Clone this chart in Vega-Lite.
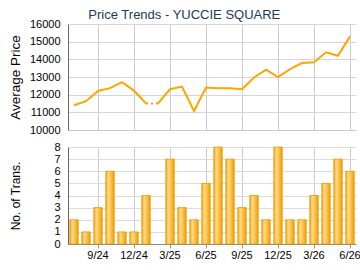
{
  "$schema": "https://vega.github.io/schema/vega-lite/v6.json",
  "background": "white",
  "padding": {"left": 8, "top": 9, "right": 5, "bottom": 5},
  "title": {"text": "Price Trends - YUCCIE SQUARE", "font": "Liberation Sans", "fontSize": 13, "fontWeight": "normal", "color": "#1b3a5c", "anchor": "middle", "offset": -4},
  "config": {
    "font": "Liberation Sans",
    "view": {"stroke": null},
    "axis": {"labelFont": "Liberation Sans", "titleFont": "Liberation Sans", "labelColor": "#000", "titleColor": "#000", "titleFontWeight": "normal", "gridColor": "#cfcfcf", "gridWidth": 1}
  },
  "datasets": {
    "price": [
      {"month": "7/24", "price": 11400, "seg": "a"},
      {"month": "8/24", "price": 11630, "seg": "a"},
      {"month": "9/24", "price": 12210, "seg": "a"},
      {"month": "10/24", "price": 12370, "seg": "a"},
      {"month": "11/24", "price": 12710, "seg": "a"},
      {"month": "12/24", "price": 12230, "seg": "a"},
      {"month": "1/25", "price": 11500, "seg": "a"},
      {"month": "2/25", "price": 11500, "seg": "b"},
      {"month": "3/25", "price": 12310, "seg": "b"},
      {"month": "4/25", "price": 12460, "seg": "b"},
      {"month": "5/25", "price": 11080, "seg": "b"},
      {"month": "6/25", "price": 12410, "seg": "b"},
      {"month": "7/25", "price": 12370, "seg": "b"},
      {"month": "8/25", "price": 12370, "seg": "b"},
      {"month": "9/25", "price": 12310, "seg": "b"},
      {"month": "10/25", "price": 12970, "seg": "b"},
      {"month": "11/25", "price": 13420, "seg": "b"},
      {"month": "12/25", "price": 13000, "seg": "b"},
      {"month": "1/26", "price": 13440, "seg": "b"},
      {"month": "2/26", "price": 13790, "seg": "b"},
      {"month": "3/26", "price": 13840, "seg": "b"},
      {"month": "4/26", "price": 14400, "seg": "b"},
      {"month": "5/26", "price": 14200, "seg": "b"},
      {"month": "6/26", "price": 15300, "seg": "b"}
    ],
    "gap": [
      {"month": "1/25", "price": 11500},
      {"month": "2/25", "price": 11500}
    ],
    "trans": [
      {"month": "7/24", "count": 2},
      {"month": "8/24", "count": 1},
      {"month": "9/24", "count": 3},
      {"month": "10/24", "count": 6},
      {"month": "11/24", "count": 1},
      {"month": "12/24", "count": 1},
      {"month": "1/25", "count": 4},
      {"month": "3/25", "count": 7},
      {"month": "4/25", "count": 3},
      {"month": "5/25", "count": 2},
      {"month": "6/25", "count": 5},
      {"month": "7/25", "count": 8},
      {"month": "8/25", "count": 7},
      {"month": "9/25", "count": 3},
      {"month": "10/25", "count": 4},
      {"month": "11/25", "count": 2},
      {"month": "12/25", "count": 8},
      {"month": "1/26", "count": 2},
      {"month": "2/26", "count": 2},
      {"month": "3/26", "count": 4},
      {"month": "4/26", "count": 5},
      {"month": "5/26", "count": 7},
      {"month": "6/26", "count": 6}
    ]
  },
  "spacing": 6,
  "vconcat": [
    {
      "width": 288,
      "height": 106,
      "encoding": {
        "x": {"field": "month", "type": "ordinal",
          "scale": {"type": "point", "padding": 0.5, "domain": ["7/24","8/24","9/24","10/24","11/24","12/24","1/25","2/25","3/25","4/25","5/25","6/25","7/25","8/25","9/25","10/25","11/25","12/25","1/26","2/26","3/26","4/26","5/26","6/26"]},
          "axis": {"title": null, "labels": false, "ticks": false, "values": ["9/24","12/24","3/25","6/25","9/25","12/25","3/26","6/26"], "domainColor": "#c8c8c8", "grid": true, "gridColor": "#cccccc"}},
        "y": {"field": "price", "type": "quantitative",
          "scale": {"domain": [10000, 16000], "nice": false, "zero": false},
          "axis": {"title": "Average Price", "titleFontSize": 13.5, "labelFontSize": 11, "format": "d", "labelOverlap": false, "values": [10000,11000,12000,13000,14000,15000,16000], "grid": true, "gridColor": "#d6d6d6", "ticks": false, "labelPadding": 8, "titlePadding": 7, "domainColor": "#666", "labelFlush": false}}
      },
      "layer": [
        {
          "data": {"name": "price"},
          "mark": {"type": "line", "color": "#FFA500", "strokeWidth": 2},
          "encoding": {"detail": {"field": "seg"}}
        },
        {
          "data": {"name": "gap"},
          "mark": {"type": "line", "color": "#FFA500", "strokeWidth": 2, "strokeDash": [2, 3]},
          "encoding": {}
        }
      ]
    },
    {
      "width": 288,
      "height": 97,
      "data": {"name": "trans"},
      "mark": {"type": "bar", "stroke": "#E89A00", "strokeWidth": 0.8,
        "color": {"gradient": "linear", "x1": 0, "y1": 0, "x2": 1, "y2": 0,
          "stops": [
            {"offset": 0, "color": "#F2A414"},
            {"offset": 0.3, "color": "#FFDA8C"},
            {"offset": 0.55, "color": "#FDC552"},
            {"offset": 0.8, "color": "#F6B12A"},
            {"offset": 1, "color": "#E99A00"}
          ]}},
      "encoding": {
        "x": {"field": "month", "type": "ordinal",
          "scale": {"type": "band", "paddingInner": 0.3, "paddingOuter": 0.15, "domain": ["7/24","8/24","9/24","10/24","11/24","12/24","1/25","2/25","3/25","4/25","5/25","6/25","7/25","8/25","9/25","10/25","11/25","12/25","1/26","2/26","3/26","4/26","5/26","6/26"]},
          "axis": {"title": null, "labelAngle": 0, "labelFontSize": 11, "labelOverlap": false, "values": ["9/24","12/24","3/25","6/25","9/25","12/25","3/26","6/26"], "grid": true, "gridColor": "#cccccc", "bandPosition": 0.5, "tickSize": 4, "tickColor": "#999", "domainColor": "#888", "labelPadding": 1}},
        "y": {"field": "count", "type": "quantitative",
          "scale": {"domain": [0, 8], "nice": false},
          "axis": {"title": "No. of Trans.", "titleFontSize": 12, "labelFontSize": 11, "labelOverlap": false, "values": [0,1,2,3,4,5,6,7,8], "ticks": false, "labelPadding": 8, "titlePadding": 31, "domainColor": "#666", "gridColor": "#dcdcdc"}}
      }
    }
  ]
}
